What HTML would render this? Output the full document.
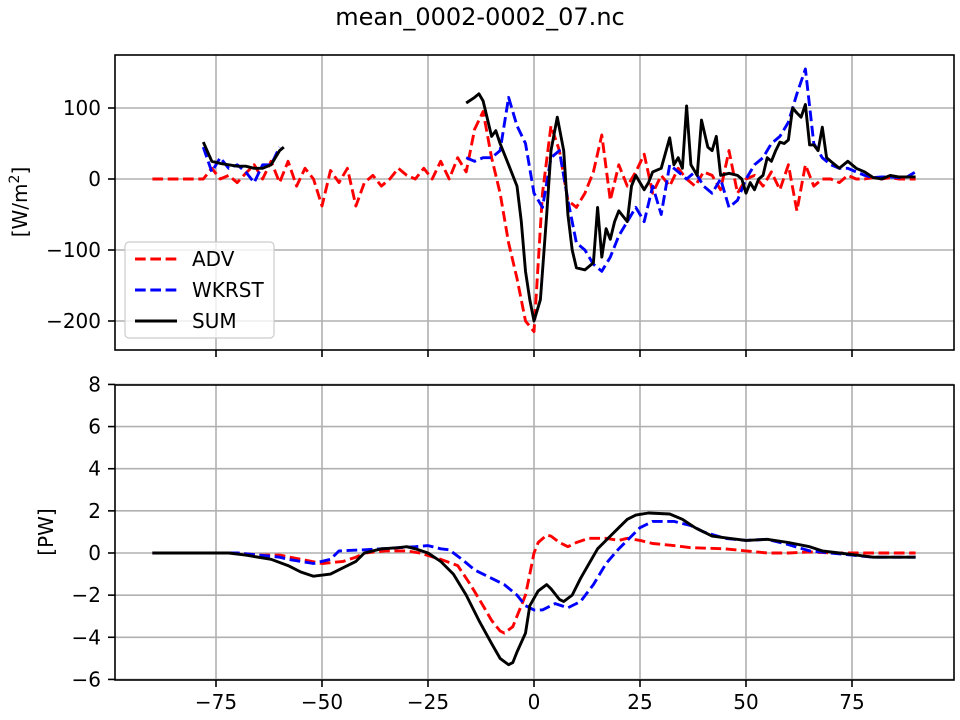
<!DOCTYPE html>
<html><head><meta charset="utf-8"><style>
body{margin:0;background:#fff;}
svg{display:block;font-family:"DejaVu Sans","Liberation Sans",sans-serif;}
</style></head><body>
<svg id="chart" width="960" height="720" viewBox="0 0 960 720" xmlns="http://www.w3.org/2000/svg">
<text x="480" y="25" text-anchor="middle" font-size="24">mean_0002-0002_07.nc</text>
<g id="top"></g>
<g id="bot"></g>
</svg>
<script>
// ---- data ----
const xTicks = [-75, -50, -25, 0, 25, 50, 75];
const topYTicks = [-200, -100, 0, 100];
const botYTicks = [-6, -4, -2, 0, 2, 4, 6, 8];

const advLat = [-90,-88,-86,-84,-82,-80,-78,-76,-74,-72,-70,-68,-66,-64,-62,-60,-58,-56,-54,-52,-50,-48,-46,-44,-42,-40,-38,-36,-34,-32,-30,-28,-26,-24,-22,-20,-18,-16,-14,-12,-10,-8,-6,-4,-2,0,2,4,6,8,10,12,14,16,18,20,22,24,26,28,30,32,34,36,38,40,42,44,46,48,50,52,54,56,58,60,62,64,66,68,70,72,74,76,78,80,82,84,86,88,90];
const advVal = [0,0,0,0,0,0,0,15,0,5,-5,8,20,0,25,-5,25,-10,15,0,-38,12,-5,15,-38,-5,5,-10,0,15,5,0,15,0,25,0,30,10,70,95,30,-20,-90,-140,-200,-215,-20,75,40,-30,-40,-20,10,62,-30,20,-10,10,35,-20,5,-10,15,0,-10,10,5,-15,40,-20,0,5,-10,10,-15,20,-45,20,-10,0,0,-5,5,0,0,2,0,2,0,0,0];

const wkLat = [-78,-76,-74,-72,-70,-68,-66,-64,-62,-60,-58,-16,-14,-12,-10,-8,-6,-4,-2,0,2,4,6,8,10,12,14,16,18,20,22,24,26,28,30,32,34,36,38,40,42,44,46,48,50,52,54,56,58,60,62,64,66,68,70,72,74,76,78,80,82,84,86,88,90];
const wkVal = [45,10,30,15,20,10,-5,20,20,45,null,30,25,30,30,40,115,75,50,-20,-40,30,40,-30,-90,-100,-120,-130,-110,-80,-60,-40,-60,-10,-50,20,10,0,10,-10,-20,0,-40,-30,0,20,30,50,60,80,120,155,50,30,20,15,15,10,5,2,3,3,2,3,10];

const sumLat = [-78,-76,-74,-72,-70,-68,-66,-64,-62,-60,-59,-58,-16,-14,-13,-12,-10,-9,-8,-6,-4,-3,-2,-1,0,1.5,3,4,5.5,7,8,9,10,12,14,15,16,17,18,19,20,22,23,24,25,26,27,28,30,32,33,34,35,36,37,38.5,39.5,41,42,43,44,46,48,49,50,51,52,53,54,55,56,57,58,59,60,61,62,63,64,65,66,67,68,69,70,72,74,76,78,80,82,84,86,88,90];
const sumVal = [52,25,22,20,18,18,15,15,20,40,45,null,107,115,120,110,60,68,50,20,-10,-60,-130,-170,-200,-170,-50,40,87,40,-50,-100,-125,-128,-118,-40,-110,-70,-85,-60,-45,-60,-10,5,-5,-15,-5,10,15,58,20,30,15,103,20,5,83,45,40,60,5,8,5,0,-20,-5,-15,0,5,30,25,40,52,50,55,100,93,87,105,48,48,40,73,30,25,15,25,15,10,2,0,5,3,3,3];

const advPWLat = [-90,-70,-65,-60,-55,-50,-45,-42,-40,-35,-30,-27,-22,-18,-15,-12,-10,-8,-7,-5,-4,-2,-1,0,1,3,4,6,8,10,13,17,20,22,25,28,33,37,45,50,55,60,65,70,90];
const advPWVal = [0,0,-0.1,-0.1,-0.3,-0.5,-0.4,-0.2,0,0.1,0.1,0,-0.3,-0.6,-1.5,-2.5,-3.2,-3.7,-3.8,-3.5,-3.0,-2.0,-1.0,0,0.5,0.85,0.8,0.5,0.3,0.5,0.7,0.7,0.6,0.7,0.6,0.45,0.35,0.25,0.2,0.1,0,0,0.05,0,0];

const wkPWLat = [-90,-70,-65,-60,-58,-52,-48,-46,-40,-36,-32,-28,-25,-22,-20,-17,-14,-10,-7,-4,-2,0,2,5,8,11,14,17,20,23,25,28,33,37,40,45,50,55,60,65,70,75,80,90];
const wkPWVal = [0,0,-0.1,-0.2,-0.3,-0.5,-0.3,0.1,0.15,0.2,0.25,0.3,0.35,0.2,0.15,-0.3,-0.8,-1.2,-1.5,-2.0,-2.5,-2.7,-2.7,-2.4,-2.6,-2.3,-1.5,-0.5,0.2,0.8,1.2,1.5,1.5,1.3,1.0,0.7,0.6,0.65,0.4,0.1,0,-0.1,-0.2,-0.2];

const sumPWLat = [-90,-72,-68,-62,-58,-55,-52,-48,-45,-42,-40,-36,-32,-30,-28,-25,-22,-19,-16,-13,-10,-8,-6,-5,-4,-2,-1,1,3,4,6,7,9,11,13,15,18,20,22,24,27,32,35,38,42,46,50,55,60,65,68,72,76,80,90];
const sumPWVal = [0,0,-0.1,-0.3,-0.6,-0.9,-1.1,-1.0,-0.7,-0.4,0,0.2,0.25,0.3,0.2,0,-0.4,-1.0,-2.0,-3.2,-4.3,-5.0,-5.3,-5.2,-4.7,-3.8,-2.5,-1.8,-1.5,-1.7,-2.2,-2.3,-2.0,-1.2,-0.5,0.2,0.8,1.2,1.6,1.8,1.9,1.85,1.6,1.2,0.8,0.7,0.6,0.65,0.5,0.3,0.1,0,-0.1,-0.2,-0.2];

// ---- axes ----
const NS = "http://www.w3.org/2000/svg";
function mk(tag, attrs, parent){const e=document.createElementNS(NS,tag);for(const k in attrs)e.setAttribute(k,attrs[k]);parent.appendChild(e);return e;}
const L=115,R=954;
const xS = v => 534 + v*4.24;
const topY = v => 179 - v*0.71;
const botY = v => 553 - v*21.07;
const LW=2.9, DASH='10.7,4.6';

function panel(g, top, bot, yS, yTicks, showX){
  for(const t of xTicks){
    const l=mk('line',{x1:xS(t),x2:xS(t),y1:top,y2:bot,stroke:'#b0b0b0','stroke-width':1.6},g);
    
    
    const tk=mk('line',{x1:xS(t),x2:xS(t),y1:bot,y2:bot+7,stroke:'#000','stroke-width':1.6},g);
    
    
    if(showX){
      const tx=mk('text',{x:xS(t),y:bot+29,'text-anchor':'middle','font-size':20},g);
      tx.textContent=(t<0?'\u2212'+(-t):t);
      
      
    }
  }
  for(const t of yTicks){
    const y=yS(t);
    const l=mk('line',{x1:L,x2:R,y1:y,y2:y,stroke:'#b0b0b0','stroke-width':1.6},g);
    
    
    const tk=mk('line',{x1:L-7,x2:L,y1:y,y2:y,stroke:'#000','stroke-width':1.6},g);
    
    
    const tx=mk('text',{x:L-14,y:y+7,'text-anchor':'end','font-size':20},g);
    tx.textContent=(t<0?'\u2212'+(-t):t);
    
    
  }
}
function series(g, lats, vals, yS, color, dashed, name){
  let d='', pen=false;
  for(let i=0;i<lats.length;i++){
    if(vals[i]===null){pen=false;continue;}
    d+=(pen?'L':'M')+xS(lats[i]).toFixed(1)+' '+yS(vals[i]).toFixed(1)+' ';
    pen=true;
  }
  const p=mk('path',{d:d,fill:'none',stroke:color,'stroke-width':LW,'stroke-linejoin':'round'},g);
  if(dashed) p.setAttribute('stroke-dasharray',DASH);
  
  
}
function frame(g, top, bot){
  const r=mk('rect',{x:L,y:top,width:R-L,height:bot-top,fill:'none',stroke:'#000','stroke-width':1.6},g);
  
  
}

const gt=document.getElementById('top');
panel(gt,55,350,topY,topYTicks,false);
series(gt,advLat,advVal,topY,'#ff0000',true,'adv-line');
series(gt,wkLat,wkVal,topY,'#0000ff',true,'wkrst-line');
series(gt,sumLat,sumVal,topY,'#000000',false,'sum-line');
frame(gt,55,350);
const yl=mk('text',{x:0,y:0,'font-size':20,'text-anchor':'middle',transform:'translate(27,202) rotate(-90)'},gt);
yl.innerHTML='[W/m<tspan baseline-shift="super" font-size="14">2</tspan>]';



// legend
const lg=mk('g',{},gt);


mk('rect',{x:125,y:242,width:149,height:96,rx:4,fill:'#fff','fill-opacity':0.8,stroke:'#cccccc','stroke-width':1.2},lg);
const ents=[['ADV','#ff0000',true,259],['WKRST','#0000ff',true,290],['SUM','#000',false,321]];
for(const e of ents){
  const eg=mk('g',{},lg);
  
  
  const ln=mk('line',{x1:135,x2:177,y1:e[3],y2:e[3],stroke:e[1],'stroke-width':LW},eg);
  if(e[2]) ln.setAttribute('stroke-dasharray',DASH);
  const t=mk('text',{x:192,y:e[3]+7,'font-size':20},eg);
  t.textContent=e[0];
}

const gb=document.getElementById('bot');
panel(gb,385,680,botY,botYTicks,true);
series(gb,advPWLat,advPWVal,botY,'#ff0000',true,'adv-pw-line');
series(gb,wkPWLat,wkPWVal,botY,'#0000ff',true,'wkrst-pw-line');
series(gb,sumPWLat,sumPWVal,botY,'#000000',false,'sum-pw-line');
frame(gb,385,680);
const yl2=mk('text',{x:0,y:0,'font-size':20,'text-anchor':'middle',transform:'translate(53,532) rotate(-90)'},gb);
yl2.textContent='[PW]';


</script>
</body></html>
